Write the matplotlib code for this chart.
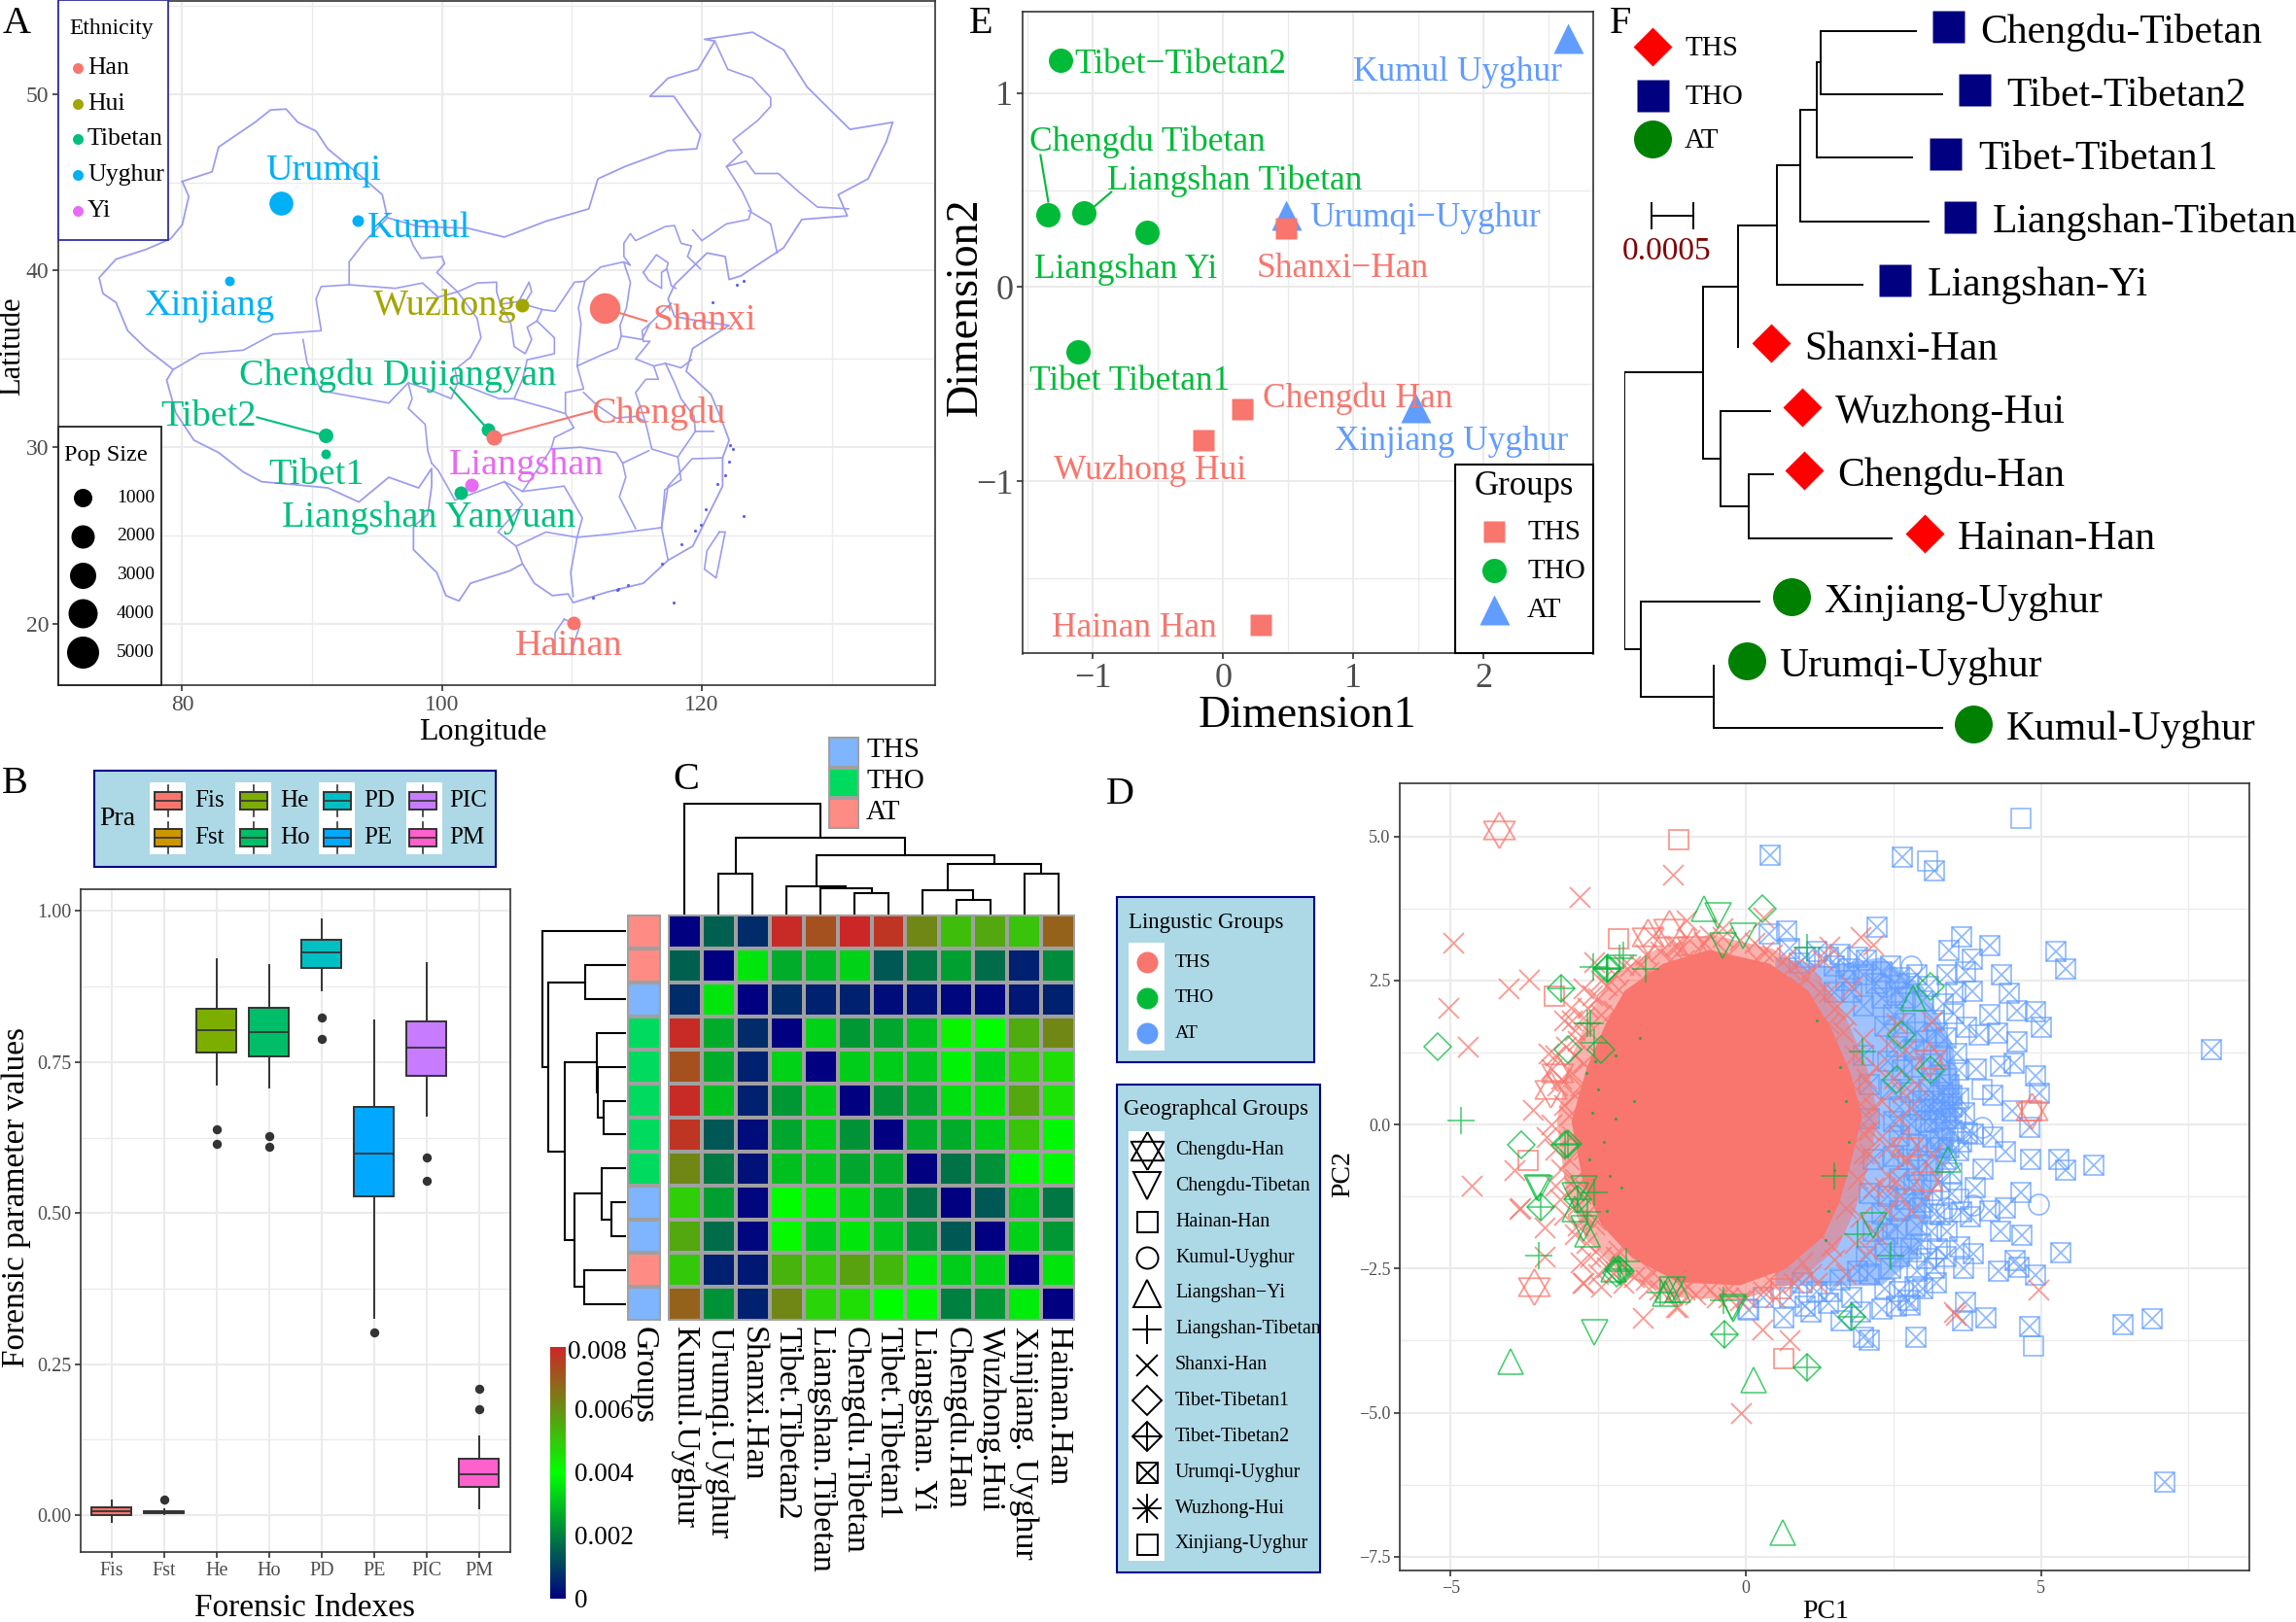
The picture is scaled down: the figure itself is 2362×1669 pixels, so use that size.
import numpy as np
import matplotlib
matplotlib.use("Agg")
import matplotlib.pyplot as plt
from matplotlib.colors import LinearSegmentedColormap, ListedColormap
from matplotlib.patches import Rectangle

plt.rcParams['font.family'] = ['Liberation Serif', 'DejaVu Sans']
plt.rcParams['axes.unicode_minus'] = True

# ---------- Panel A data ----------
site_names = ['Shanxi','Chengdu','Hainan','Wuzhong','Urumqi','Kumul','Xinjiang','Tibet2','Tibet1',
              'Chengdu Dujiangyan','Liangshan Yanyuan','Liangshan']
site_eth = ['Han','Han','Han','Hui','Uyghur','Uyghur','Uyghur','Tibetan','Tibetan','Tibetan','Tibetan','Yi']
site_lon = [112.48,104.02,110.14,106.17,87.6,93.5,83.64,91.07,91.07,103.55,101.45,102.29]
site_lat = [37.87,30.55,20.03,38.03,43.84,42.83,39.4,30.65,29.64,31.0,27.4,27.84]
site_pop = [4500,700,500,500,2200,300,100,600,100,500,500,500]
label_lon = [120.2,116.7,109.77,100.2,90.84,98.2,82.1,82.0,90.37,96.6,99.0,106.5]
label_lat = [37.2,31.93,18.76,38.03,45.64,42.4,37.98,31.75,28.45,34.03,26.03,28.97]
pop_legend = [1000,2000,3000,4000,5000]
eth_names = ['Han','Hui','Tibetan','Uyghur','Yi']
eth_cols = ['#F8766D','#A3A500','#00BF7D','#00B0F6','#E76BF3']

china_outer = [(80,45.05),(82.3,45.6),(82.8,47),(85.6,48.4),(86.8,49.1),(88,49.15),(88.9,48.4),(90.3,47.9),(91.2,46.9),
 (94,45.2),(95.4,44.3),(95.8,43),(98.2,42.5),(102,42.4),(104.8,41.9),(108,42.8),(111.3,43.5),(112,45.2),(114.1,45.9),
 (117.4,46.8),(119.6,46.9),(119.9,47.7),(117.85,49.87),(116,49.87),(117.4,50.9),(119.7,51.4),(121,53),(120.2,53.1),
 (123.9,53.5),(126.3,52.5),(128.1,50.4),(131.4,48),(134.7,48.4),(134.2,47.3),(132.8,45.2),(130.5,44.3),(131.2,43.1),
 (127.7,42.9),(126.3,41.3),(123,39.7),(122.1,39.5),(121.8,40.8),(120.4,41),(117.9,39.2),(117.4,38.4),(117.9,37.4),
 (120.2,37.1),(122.1,36.9),(119.3,35.6),(118.8,34.3),(120.7,33),(121.6,31.4),(122.1,30.4),(121.6,29.4),(121.6,27.8),
 (119.3,24.4),(117.4,23.6),(115.5,22.3),(112.7,21.8),(110.1,21.2),(109.7,21.7),(108.5,21.6),(107.1,22.3),(106.2,23.4),
 (105.2,23),(102.2,22.3),(101.3,21.3),(100.3,21.6),(99.6,22.9),(97.8,24.2),(97.8,25.5),(98.9,26.2),(99.2,27.8),(99.2,28.8),
 (98.2,27.7),(95.9,28.3),(93.6,26.9),(91.2,27.7),(88.4,27.9),(86.1,28.05),(84.7,28.6),(82.8,29.7),(80.9,30.4),(79.5,31.95),
 (78.8,33.8),(79.3,34.4),(77.2,35.6),(75.8,36.6),(74.9,38.2),(73.9,38.7),(73.6,39.6),(74.9,40.65),(77.2,41.2),(79.1,41.8),
 (80,42.6),(80.5,44.2),(80,45.05)]
provinces = [
 [(95.8,43),(94,41.6),(92.85,40.5),(92.85,39.2),(90.7,39.1),(90.3,38.4),(90.7,36.6),(87,36.4),(84.7,35.5),(81.4,35.3),(79.3,34.4)],
 [(89.3,36.1),(89.6,34.8),(90.7,33.2),(95.9,32.5),(97.4,33.65),(97.7,32.75),(97.4,32.2),(98.7,31.3),(98.9,29.8),(99.2,29.1)],
 [(97.4,42.1),(97.8,41.4),(98.4,40.7),(100,40.8),(100.2,40.4),(99.6,39.9),(101.2,38.8),(102.7,39.3),(104.2,39.35),(104.2,38.8),
  (104.5,38.1),(105.9,38.25),(106.7,39.35),(106.9,38.8),(106.3,38.1),(107.7,37.8),(108.7,37.7),(110.2,39.35),(111,39.4),(112.2,40.2),
  (114,40.5),(114.5,40.3),(114,40.8),(114,41.55),(114.5,42.1),(114.9,41.7),(117.2,42.5),(117.9,42.55),(118.4,41.55),(119.2,41.4),(118.9,40.8),(119.9,40.1)],
 [(119.3,42.3),(120,41.7),(121.9,42.65),(123.6,42.9),(123.8,43.4),(123.1,44.5),(121.9,45.9),(123.4,46.2),(124.1,45.5),(125.9,45.5),(127.4,44.5),(128.9,43.6),(131.3,43.5)],
 [(123.6,43.4),(125.3,42.65),(125.8,41)],
 [(121.9,45.9),(123.1,46.7),(122.4,47.4),(124.3,48.5),(125.3,49.3),(125.3,49.8),(123.9,50.9),(122,51.4),(121,53)],
 [(111,39.4),(110.5,37.9),(110.7,37),(110.4,34.6),(112.2,35.2),(113.5,35.6),(113.8,36.3),(113.7,36.9),(114.2,37.9),(114.5,39.35),(114,40.45)],
 [(113.8,36.3),(115.4,36.1),(116,37),(117.65,38.15)],
 [(116,37),(115.4,36.6),(115.5,36),(116,36),(114.9,35),(116.3,34.6),(117.2,34.75),(118.4,34.5),(119.2,34.95)],
 [(115.5,39.9),(116.5,40.9),(117.4,40.45),(117.3,40.1),(116.9,39.9),(116.9,39),(115.9,39.45),(115.5,39.9)],
 [(117.3,40.1),(117.65,39.15),(118,39)],
 [(116.3,34.6),(116.65,33.85),(115.7,33.85),(114.9,33.1),(115.65,31.45),(115.9,30.7),(116.15,29.9),(118.15,29.45),(119.5,30.9),(120.9,30.9)],
 [(117.2,34.75),(117.9,33.65),(118.4,32.75),(119.4,31.75),(119.5,30.9)],
 [(118.15,29.45),(118.4,28.15),(117.15,27.6),(116.9,25.45),(117.4,23.6)],
 [(110.4,34.6),(110.9,33.3),(109.5,33.1),(109.5,31.9),(108.2,32.2),(105.5,32.75),(104.4,32.75),(101.2,33.65),(100.7,32.75),(98.9,33.3),(97.4,33.65)],
 [(110.9,33.1),(111.9,32.4),(113.4,31.65),(114.9,31.75),(115.65,31.45)],
 [(109.5,31.9),(110.15,31.1),(108.65,30.55),(108.4,29.9),(110.65,30),(113.4,29.7),(113.9,29.1),(115.9,29.8)],
 [(113.9,29.1),(114.15,28.3),(113.65,27.2),(114.9,25.4)],
 [(107.7,37.8),(107.3,37.15),(108.65,36.2),(108.65,35.3),(106.55,34.95),(106.2,33.85),(105.55,32.75)],
 [(104.5,38.1),(105.3,37),(105.55,35.7),(106.4,35.3),(106.9,36.1),(106.55,36.8),(107.3,37.15)],
 [(92.85,39.2),(96.4,39.0),(98.5,39.3),(99.7,38.5),(101.2,38.8),(102.7,37.3),(103,36.2),(102.2,35.1),(101,34.4),(101.2,33.65)],
 [(99.2,29.1),(99.7,28.7),(100.7,27.4),(101,27),(104.8,28.05),(106.2,26.75),(104.3,25.2),(105.7,24.4),(106.2,23.4)],
 [(106.2,27.5),(109.4,27.8),(110.8,26),(110.4,24.9),(113.2,25.1),(116.9,25.45)],
 [(105.7,24.4),(108,25.2),(110.4,24.9),(109.9,22.9),(110.1,21.55)],
 [(116.9,25.45),(117.4,27.8),(119.25,29.35),(121.6,29.4)],
 [(108.4,29.9),(106.2,27.5),(104.8,28.05)],
 [(121.35,25.2),(121.8,25.2),(121.1,22.6),(120.2,23.1),(120.4,24.15),(121.35,25.2)],
 [(109.4,20.26),(110.6,19.9),(109.9,18.3),(108.7,18.3),(108.7,19.5),(109.4,20.26)],
]
islands = [(122.2,30.1),(122.4,29.9),(122.1,29.2),(121.8,28.4),(121.2,27.9),(120.3,26.5),(119.9,25.6),(119.5,25.3),(118.4,24.5),
 (116.9,23.4),(114.3,22.2),(113.5,21.9),(111.6,21.5),(122.7,39.2),(123.2,39.4),(120.8,38.2),(113.6,22.0),(123.2,26.1),(117.8,21.2)]

# ---------- Panel B data ----------
par_names = ['Fis','Fst','He','Ho','PD','PE','PIC','PM']
par_cols = ['#F8766D','#CD9600','#7CAE00','#00BE67','#00BFC4','#00A9FF','#C77CFF','#FF61CC']
par_q1 = [0.0,0.003,0.765,0.76,0.906,0.527,0.727,0.047]
par_med = [0.006,0.005,0.803,0.799,0.932,0.598,0.774,0.068]
par_q3 = [0.013,0.007,0.838,0.839,0.953,0.676,0.817,0.093]
par_lo = [-0.011,0.002,0.713,0.708,0.869,0.326,0.662,0.012]
par_hi = [0.025,0.01,0.92,0.91,0.986,0.819,0.914,0.130]
par_out = [[],[0.026],[0.638,0.615],[0.628,0.609],[0.824,0.789],[0.302],[0.592,0.554],[0.209,0.175]]

# ---------- Panel C data ----------
pop_cols = ['Kumul.Uyghur','Urumqi.Uyghur','Shanxi.Han','Tibet.Tibetan2','Liangshan.Tibetan','Chengdu.Tibetan',
            'Tibet.Tibetan1','Liangshan. Yi','Chengdu.Han','Wuzhong.Hui','Xinjiang. Uyghur','Hainan.Han']
fst = [
 [0,.0015,.0007,.0079,.0072,.0080,.0077,.0062,.0052,.0056,.0051,.0069],
 [.0015,0,.0036,.0027,.0029,.0033,.0014,.0019,.0025,.0017,.0005,.0022],
 [.0007,.0036,0,.0007,.0005,.0005,.0002,.0003,.0001,.0001,.0004,.0005],
 [.0079,.0027,.0007,0,.0033,.0024,.0026,.0030,.0042,.0040,.0055,.0062],
 [.0072,.0027,.0005,.0033,0,.0032,.0032,.0031,.0038,.0033,.0049,.0046],
 [.0079,.0030,.0005,.0024,.0032,0,.0023,.0026,.0035,.0036,.0056,.0045],
 [.0077,.0014,.0002,.0026,.0032,.0023,0,.0027,.0027,.0032,.0051,.0039],
 [.0062,.0019,.0003,.0030,.0031,.0026,.0027,0,.0018,.0023,.0039,.0039],
 [.0049,.0025,.0001,.0040,.0037,.0034,.0027,.0018,0,.0014,.0032,.0019],
 [.0056,.0017,.0001,.0041,.0032,.0036,.0031,.0023,.0014,0,.0033,.0024],
 [.0050,.0005,.0004,.0054,.0050,.0057,.0053,.0037,.0032,.0033,0,.0036],
 [.0069,.0023,.0005,.0062,.0048,.0046,.0040,.0039,.0020,.0024,.0037,0]]
row_groups = [2,2,0,1,1,1,1,1,0,0,2,0]
tree_top = (193,0,(134,(71,1,2),(104,(49,3,(45,4,(38,5,6))),(89,(42,7,(25,8,9)),(72,10,11)))))
tree_left = (215,0,(200,(105,1,2),(157,(75,3,(72,4,(58,5,6))),(132,(62,7,(38,8,9)),(107,10,11)))))
group_names = ['THS','THO','AT']
cbar_ticks = [0.008,0.006,0.004,0.002,0]
cbar_labels = ['0.008','0.006','0.004','0.002','0']

# ---------- Panel D data ----------
urumqi = [(3.66,3.25),(3.45,3.02),(4.14,3.10),(3.84,2.86),(5.26,3.0),(5.42,2.70),(3.73,2.65),(4.33,2.59),(3.41,2.59),(3.84,2.31),
 (4.47,2.28),(4.14,1.90),(4.91,1.96),(4.59,1.97),(5.01,1.69),(4.27,1.58),(4.59,1.44),(3.96,1.55),(3.52,1.92),(3.74,1.69),(3.25,1.58),
 (4.54,1.07),(4.32,1.02),(4.90,.85),(4.98,.54),(3.91,.96),(3.58,1.24),(4.18,.51),(4.51,.23),(4.81,-.05),(4.40,-.47),(4.18,-.22),
 (4.83,-.61),(5.30,-.61),(5.42,-.80),(5.90,-.70),(3.88,-1.09),(4.02,-.78),(3.85,-.16),(4.66,-1.18),(4.40,-1.45),(4.14,-1.50),(3.66,-1.51),
 (3.80,-1.60),(4.68,-1.92),(4.32,-1.85),(3.63,-2.13),(3.85,-2.24),(5.33,-2.22),(4.29,-2.55),(3.69,-2.50),(4.57,-2.36),(4.63,-2.47),
 (4.91,-2.61),(3.23,-2.74),(2.86,-2.81),(3.73,-3.09),(3.67,-3.40),(4.07,-3.36),(4.81,-3.51),(6.39,-3.47),(6.89,-3.37),(2.88,-3.69),
 (2.78,-3.14),(3.06,-2.33),(3.41,-1.85),(2.97,-2.07),(3.30,-1.57),(.41,4.67),(2.66,4.64),(3.2,4.4),(2.23,3.43),(7.89,1.3),(7.09,-6.2),
 (1.4,2.9),(1.75,2.7),(2.0,2.6),(1.5,2.3),(2.6,2.55),(2.9,2.6),(3.1,2.4),(2.3,2.2),(2.7,2.2),(3.2,1.8),(2.5,1.9),(2.9,1.6),(3.3,1.2),
 (2.85,1.0),(3.1,.6),(3.45,.7),(3.3,.2),(3.5,-.1),(3.1,-.3),(3.4,-.6),(2.9,-.8),(3.3,-1.0),(3.0,-1.35),(2.6,-1.5),(2.9,-1.75),(2.4,-1.9),
 (2.8,-2.15),(2.1,-2.6),(1.6,-2.7),(1.2,-2.9),(2.6,-2.9),(1.8,-3.0),(2.3,-3.2),(2.55,-3.15),(2.75,-3.05),(1.0,-3.15),(0.65,-3.35),
 (1.1,-3.25),(1.62,-3.4),(2.0,-3.7),(2.1,-3.75),(.05,-3.22),(.95,-2.75),(.9,2.8),(.7,3.35),(.4,3.3),(1.0,2.9),(1.5,2.75),(1.8,2.3),(3.7,.2),(3.2,-2.5),
 (2.05,2.85),(2.45,2.75),(2.75,2.45),(3.0,2.15),(2.2,2.45),(1.7,2.5),(2.55,2.3),(3.35,2.1),(3.55,2.3),(2.35,1.7),(2.7,1.75),(3.05,1.45),(3.4,1.5),
 (2.55,1.35),(2.85,1.3),(3.15,1.05),(2.4,1.1),(2.65,.95),(3.6,.95),(3.3,.85),(2.45,.6),(2.8,.55),(3.6,.45),(2.6,.3),(2.95,.25),(3.2,.4),(3.5,.3),
 (2.5,.05),(2.8,.0),(3.05,.05),(3.75,-.15),(2.6,-.2),(2.9,-.35),(3.25,-.4),(3.6,-.45),(2.5,-.55),(2.75,-.6),(3.1,-.7),(3.5,-.85),(2.6,-.95),(2.85,-1.05),
 (3.15,-1.15),(3.5,-1.2),(2.4,-1.25),(2.7,-1.3),(3.2,-1.55),(2.3,-1.55),(2.55,-1.8),(2.95,-1.45),(3.15,-1.85),(2.15,-1.85),(2.35,-2.15),(2.6,-2.3),
 (3.25,-2.15),(2.05,-2.3),(2.45,-2.5),(2.9,-2.55),(1.9,-2.55),(1.45,-2.9),(2.35,-2.85),(3.4,-2.3),(3.0,-2.85),(1.95,-3.25),(1.4,-3.1),(.75,-3.0),(.3,-3.0),
 (2.3,2.65),(1.9,2.9),(1.2,3.0),(.75,3.05),(1.6,2.95),(2.0,2.05),(2.0,1.2),(2.1,.7),(2.1,0.1),(2.15,-.6),(2.1,-1.2),(3.35,.55),(3.55,.1),(3.65,-.3),
 (3.4,.1),(3.2,.05),(3.3,-.25),(3.45,-.4),(3.15,.25),(3.35,.35),(3.5,.5),(3.0,.4)]
xinjiang = [(4.66,5.32),(3.08,4.57),(4.88,-3.85),(.03,-3.2),(3.4,.8),(4.0,.6),(3.6,-1.3)]
hainan = [(-1.13,4.94),(-2.16,3.23),(-3.25,2.22),(-3.69,-.63),(.65,-4.07),(4.84,.24),(.6,-2.85)]
kumul = [(4.96,-1.39),(2.8,2.75),(2.35,2.4),(4.0,-.05),(3.4,-1.45),(3.85,-1.4)]
chengdu_han = [(-4.18,5.11),(-3.59,-2.82),(-1.66,3.26),(-.9,3.1),(4.84,.24),(3.11,1.13),(3.06,-.98),(2.72,-.38),(-3.2,.9),(-3.3,.6),(-1.3,3.4)]
shanxi = [(-1.24,4.34),(-2.81,3.94),(-4.95,3.16),(-3.67,2.51),(-4.02,2.37),(-5.03,2.02),(-4.7,1.35),(-4.64,-1.06),(-3.92,-.8),(-3.82,-1.45),
 (-.08,-5),(4.95,-2.86),(3.55,-3.31),(.74,-3.74),(.28,-3.55),(-1.75,-3.36),(-1.18,-3.17),(-2.76,-2.74),(-3.6,.26),(-3.84,-1.46),
 (-3.40,-1.79),(-3.4,-2.3),(-2.74,-2.75),(-2.46,-2.81),(-1.15,-3.17),(-2.08,-2.75),(-1.69,-2.69),(-3.29,.96),(-3.23,1.19),(-3.34,1.24),
 (-3.12,.79),(-3.2,.68),(-3.07,.34),(-3.07,1.8),(-2.74,2.37),(-2.96,2.03),(-2.9,1.63),(-2.57,2.82),(-2.08,2.76),(-1.58,3.27),(-1.15,3.1),
 (-1.8,2.76),(-1.26,2.87),(-.6,3.27),(-3.37,-.22),(-3.23,-.44),(-3.29,0),(-3.12,-.78),(-3.23,-1.06),(-2.9,-.95),(-3.07,-1.57),(-2.9,-1.91),
 (-2.63,-2.3),(-2.35,-2.47),(-1.47,-2.86),(-1.03,-2.86),(-.6,-2.86),(-2.35,2.42),(-2.24,1.97),(-2.68,2.03),(-2.74,1.07),(-2.79,.68),
 (-2.68,0),(-2.74,-.44),(-2.63,-1.18),(-2.57,-1.74),(.3,3.0),(.7,2.9),(1.1,2.7),(1.4,2.3),(1.7,1.9),(2.0,1.5),(2.2,1.0),(2.3,.4),(2.3,-.2),
 (2.4,-.9),(2.4,-1.5),(2.1,-2.2),(1.7,-2.6),(1.2,-2.75),(.5,-3.0),(0,-3.0),(-.3,-3.0),(3.14,1.78),(3.17,-.53),(2.78,.29),(3.52,-3.26),
 (1.94,3.25),(2.16,3.12),(1.41,3.09),(.3,3.6),(-.4,3.4),(-1.0,3.55),(1.3,2.85),(2.0,-.5),(2.6,.1),(2.5,.8),(2.55,-1.0),(2.2,-1.9),(-2.2,-2.3),(-2.5,2.2),(-2.9,1.2),
 (-2.95,.9),(-2.9,.5),(-3.0,.15),(-2.95,-.2),(-3.0,-.6),(-2.9,-1.1),(-2.85,-1.4),(-2.75,-1.6),(-3.05,1.35),(-2.85,1.45),(-2.95,1.8),(-2.65,1.6),(-2.6,2.25),
 (-2.75,1.85),(-2.45,2.5),(-2.2,2.6),(-1.95,2.75),(-1.7,2.95),(-1.45,3.0),(-1.2,3.1),(-.95,3.2),(-.7,3.15),(-.4,3.25),(-.1,3.2),(.15,3.15),(.45,2.95),(.75,2.7),
 (1.0,2.55),(1.25,2.3),(1.5,2.0),(1.65,1.6),(1.85,1.2),(2.05,.8),(2.15,.3),(2.1,-.1),(2.1,-.5),(2.15,-1.1),(1.95,-1.6),(1.85,-2.05),(1.5,-2.35),(1.1,-2.6),(.8,-2.75),
 (.3,-2.9),(-.1,-3.05),(-.5,-3.0),(-.85,-2.95),(-1.25,-2.95),(-1.65,-2.85),(-1.9,-2.65),(-2.2,-2.55),(-2.45,-2.3),(-2.7,-2.05),(-2.85,-1.75),(-2.5,-2.6),(-2.8,-2.4),
 (-3.15,-1.3),(-2.65,-.7),(-2.7,.4),(-2.5,1.2),(-2.45,1.9),(-2.15,2.35),(-1.65,2.65),(-1.05,2.85),(-.3,2.95),(.2,2.85),(.9,2.4),(1.4,1.75),(1.8,.7),(1.95,.35),(2.0,-.15),
 (1.9,-.95),(1.7,-1.45),(1.45,-2.1),(.95,-2.4),(.4,-2.7),(-.3,-2.85),(-1.0,-2.8),(-1.6,-2.55),(-2.15,-2.2),(-2.55,-1.65),(-2.8,-1.2),(-2.85,-.35),(2.9,.7),(2.7,1.3),
 (2.55,1.75),(2.4,-.4),(2.7,-.6),(2.6,-1.25),(2.8,-1.5),(2.65,.55),(2.4,1.4),(2.35,-1.1),(1.8,2.4)]
liangshan_yi = [(.62,-7.09),(-3.98,-4.11),(.14,-4.44),(-.71,3.74),(2.84,2.19),(3.43,-.61),(-1.37,-2.93),(-2.68,-1.91),(-1.31,-2.86),(-1.15,-2.86),(-2.24,-2.52),(-2.9,-1.46)]
chengdu_tib = [(-2.56,-3.6),(-.47,3.62),(2.16,-1.75),(-3.54,-1.09),(-.23,-3.17),(-3.51,-1.12),(-2.74,-1.12),(-2.9,-1.23),(-2.74,-1.8),(-.21,-3.2),(-1.25,-2.86),(-.05,3.27),(-.4,3.1)]
tibet1 = [(-5.22,1.35),(.28,3.74),(-3.8,-.35),(3.13,2.39),(2.64,1.56),(2.56,.78),(3.13,.95),(-3.01,1.3),(-2.46,1.3),(-2.19,-2.58)]
tibet2 = [(-3.12,2.37),(-.36,-3.64),(1.04,-4.21),(1.8,-3.34),(-2.34,2.72),(-3.47,-1.43),(-3.06,-.35),(-2.15,-2.51),(-2.35,2.7),(-3.01,-.34),(-2.85,-1.29),(-2.13,-2.55)]
liangshan_tib = [(-4.82,.07),(-3.51,-2.28),(1.97,1.26),(2.45,-2.28),(-2.14,2.89),(1.04,3.07),(-2.59,2.74),(-2.69,1.75),(-2.63,1.75),(-2.35,2.70),(-2.08,2.93),(-1.69,2.7),(-2.57,1.41),(-.38,-3.06),(-1.45,-2.92),(-2.02,-2.38),(-2.68,-1.51),(-2.57,-1.18),(1.5,-.9),(1.9,-1.9)]
core_ths = [(-.62,3.03),(.41,2.79),(1.06,2.32),(1.45,1.66),(1.77,.9),(1.97,.14),(1.77,-.71),(1.58,-1.37),(1.32,-1.94),(.67,-2.51),(-.1,-2.79),(-1.14,-2.74),(-1.92,-2.32),(-2.44,-1.75),(-2.76,-.99),(-2.95,.05),(-2.69,.99),(-2.37,1.75),(-2.05,2.32),(-1.4,2.79)]
fringe_ths = [(-.6,3.3),(.45,3.05),(1.25,2.55),(1.7,1.85),(2.05,1.0),(2.25,.15),(2.05,-.8),(1.85,-1.5),(1.55,-2.15),(.85,-2.75),(-.1,-3.05),(-1.2,-3.0),(-2.1,-2.6),(-2.7,-2.0),(-3.05,-1.1),(-3.2,.05),(-3.0,1.05),(-2.65,1.9),(-2.3,2.55),(-1.5,3.05)]
core_at = [(.5,2.9),(1.4,2.75),(2.3,2.9),(3.0,2.4),(3.5,1.4),(3.65,.5),(3.5,-.5),(3.1,-1.3),(2.9,-2.3),(2.3,-2.8),(1.4,-2.8),(.5,-2.8)]
specks = [(-2.5,.6),(-2.2,1.2),(-1.9,.4),(-2.4,-.3),(-2.1,-1.1),(-2.3,-.9),(1.6,1.0),(1.7,.4),(1.5,-.8),(1.4,-1.5),(1.2,1.8),(-2.6,.2),
 (-2.7,.9),(-2.65,-.6),(1.75,-.3),(1.35,-2.0),(-2.2,.1),(-2.55,1.1),(-1.8,1.5),(-2.35,-1.5)]
geo_names = ['Chengdu-Han','Chengdu-Tibetan','Hainan-Han','Kumul-Uyghur','Liangshan\u2212Yi','Liangshan-Tibetan','Shanxi-Han',
             'Tibet-Tibetan1','Tibet-Tibetan2','Urumqi-Uyghur','Wuzhong-Hui','Xinjiang-Uyghur']

# ---------- Panel E data ----------
mds_names = ['Tibet\u2212Tibetan2','Chengdu Tibetan','Liangshan Tibetan','Liangshan Yi','Tibet Tibetan1',
             'Kumul Uyghur','Urumqi\u2212Uyghur','Xinjiang Uyghur','Shanxi\u2212Han','Chengdu Han','Wuzhong Hui','Hainan Han']
mds_group = ['THO']*5+['AT']*3+['THS']*4
mds_x = [-1.25,-1.344,-1.069,-.583,-1.118,2.647,.486,1.474,.479,.149,-.155,.292]
mds_y = [1.17,.374,.381,.281,-.334,1.285,.371,-.618,.301,-.628,-.79,-1.741]
mds_tx = [-.33,-.58,.09,-.75,-.72,1.80,1.55,1.75,.92,1.03,-.56,-.68]
mds_ty = [1.145,.745,.545,.09,-.485,1.105,.355,-.795,.095,-.575,-.945,-1.755]

# ---------- Panel F data ----------
tree_nj = (0,
 (.000957,(.00138,(.00185,(.00213,(.00233,(.00238,(.00353,0),(.00385,1)),(.00349,2)),(.00369,3)),(.00289,4)),(.00138,5)),
  (.00116,(.00177,6),(.00151,(.00180,7),(.00324,8)))),
 (.000196,(.00163,9),(.00108,(.00108,10),(.00385,11))))
nj_names = ['Chengdu-Tibetan','Tibet-Tibetan2','Tibet-Tibetan1','Liangshan-Tibetan','Liangshan-Yi','Shanxi-Han',
            'Wuzhong-Hui','Chengdu-Han','Hainan-Han','Xinjiang-Uyghur','Urumqi-Uyghur','Kumul-Uyghur']
nj_group = ['THO']*5+['THS']*4+['AT']*3
nj_mark = [.00392,.00424,.00389,.00407,.00328,.00178,.00216,.00218,.00364,.00202,.00148,.00423]

# ---------- helpers ----------
W, H = 2362, 1669
fig = plt.figure(figsize=(W/100, H/100), dpi=100, facecolor='white')
PT = 0.72

def axpx(x0, y0, x1, y1, **kw):
    ax = fig.add_axes([x0/W, 1-y1/H, (x1-x0)/W, (y1-y0)/H], **kw)
    ax._box = (x0, y0, x1, y1)
    return ax

def theme(ax, xmaj, xmin, ymaj, ymin, tick=13, col='#4D4D4D'):
    ax.set_axisbelow(True)
    ax.set_xticks(xmaj); ax.set_yticks(ymaj)
    ax.set_xticks(xmin, minor=True); ax.set_yticks(ymin, minor=True)
    ax.grid(True, which='major', color='#EBEBEB', lw=1.5)
    ax.grid(True, which='minor', color='#EBEBEB', lw=1.0)
    ax.tick_params(which='minor', length=0)
    ax.tick_params(which='major', length=4, width=1.2, color='#333333', labelsize=tick, labelcolor=col, pad=3)
    for s in ax.spines.values():
        s.set_color('#333333'); s.set_linewidth(1.2)

def xlabel_at(ax, text, px, py, size):
    x0, y0, x1, y1 = ax._box
    ax.set_xlabel(text, fontsize=size, va='center', ha='center')
    ax.xaxis.set_label_coords((px-x0)/(x1-x0), (y1-py)/(y1-y0))

def ylabel_at(ax, text, px, py, size):
    x0, y0, x1, y1 = ax._box
    ax.set_ylabel(text, fontsize=size, va='center', ha='center', rotation=90)
    ax.yaxis.set_label_coords((px-x0)/(x1-x0), (y1-py)/(y1-y0))

def mark(ax, x, y, m, c, px, lw=1.1, alpha=1.0, z=3):
    ax.plot(x, y, ls='none', marker=m, mfc='none', mec=c, ms=px*PT, mew=lw, alpha=alpha, zorder=z)

TRI_UP = [(0,1),(-.866,-.5),(.866,-.5),(0,1)]
TRI_DN = [(0,-1),(-.866,.5),(.866,.5),(0,-1)]

def shape(ax, x, y, kind, c, unit, lw=1.1, alpha=1.0, z=3):
    u = unit
    if kind == 'star':
        mark(ax, x, y, TRI_UP, c, u*1.85, lw, alpha, z); mark(ax, x, y, TRI_DN, c, u*1.85, lw, alpha, z)
    elif kind == 'down':
        mark(ax, x, y, 'v', c, u*1.35, lw, alpha, z)
    elif kind == 'up':
        mark(ax, x, y, '^', c, u*1.35, lw, alpha, z)
    elif kind == 'square':
        mark(ax, x, y, 's', c, u, lw, alpha, z)
    elif kind == 'circle':
        mark(ax, x, y, 'o', c, u*1.05, lw, alpha, z)
    elif kind == 'plus':
        mark(ax, x, y, '+', c, u*1.4, lw, alpha, z)
    elif kind == 'x':
        mark(ax, x, y, 'x', c, u*1.05, lw, alpha, z)
    elif kind == 'diamond':
        mark(ax, x, y, 'D', c, u, lw, alpha, z)
    elif kind == 'dplus':
        mark(ax, x, y, 'D', c, u, lw, alpha, z); mark(ax, x, y, '+', c, u*1.4, lw, alpha, z)
    elif kind == 'sx':
        mark(ax, x, y, 's', c, u, lw, alpha, z); mark(ax, x, y, 'x', c, u, lw, alpha, z)
    elif kind == 'ast':
        mark(ax, x, y, '+', c, u*1.4, lw, alpha, z); mark(ax, x, y, 'x', c, u, lw, alpha, z)

# overlay for legends and panel letters
ov = axpx(0, 0, W, H, zorder=20)
ov.set_xlim(0, W); ov.set_ylim(H, 0); ov.axis('off'); ov.patch.set_alpha(0)

def box(x0, y0, x1, y1, fc, ec, lw=1.5, z=1):
    ov.add_patch(Rectangle((x0, y0), x1-x0, y1-y0, fc=fc, ec=ec, lw=lw, zorder=z))

for ch, x, y in [('A',17,25),('B',15,806),('C',706,802),('D',1152,817),('E',1009,24),('F',1667,24)]:
    ov.text(x, y, ch, fontsize=29, ha='center', va='center', color='black', zorder=9)

# ---------- Panel A ----------
axA = axpx(60, 1, 962, 705)
axA.set_xlim(70.46, 137.96); axA.set_ylim(16.53, 55.27)
theme(axA, [80,100,120], [90,110,130], [20,30,40,50], [25,35,45,55], tick=17)
mapc = '#9C9CF0'
pts = np.array(china_outer)
axA.plot(pts[:,0], pts[:,1], color=mapc, lw=1.3, zorder=2)
for p in provinces:
    p = np.array(p)
    axA.plot(p[:,0], p[:,1], color=mapc, lw=1.2, zorder=2)
isl = np.array(islands)
axA.plot(isl[:,0], isl[:,1], ls='none', marker='.', color='#6060E8', ms=2.5, zorder=2)
eth_col = dict(zip(eth_names, eth_cols))
def pop_d(v):
    return np.interp(v, [0,1000,2000,3000,4000,5000], [9,19,24,27,30,33])
for n, e, lo, la, v, tx, ty in zip(site_names, site_eth, site_lon, site_lat, site_pop, label_lon, label_lat):
    c = eth_col[e]
    axA.plot(lo, la, 'o', color=c, mec='none', ms=pop_d(v)*PT, zorder=5 if n != 'Chengdu' else 6)
    axA.text(tx, ty, n, color=c, fontsize=27.5, ha='center', va='center', zorder=7)
segs = {'Tibet2':(85.75,31.7),'Chengdu Dujiangyan':(100.65,33.38),'Chengdu':(111.54,32.03),'Shanxi':(115.75,37.14)}
for n, (sx, sy) in segs.items():
    i = site_names.index(n)
    axA.plot([sx, site_lon[i]], [sy, site_lat[i]], color=eth_col[site_eth[i]], lw=1.5, zorder=4)
xlabel_at(axA, 'Longitude', 497, 753, 23)
ylabel_at(axA, 'Latitude', 13, 356, 22)

box(60, 0, 173, 247, 'white', '#3030A0', 1.3)
ov.text(71, 30, 'Ethnicity', fontsize=17, va='center', zorder=3)
for i, (n, c) in enumerate(zip(eth_names, eth_cols)):
    y = 70 + 36.7*i
    ov.plot(80, y, 'o', color=c, mec='none', ms=11*PT, zorder=3)
    ov.text(90, y, n, fontsize=18.5, va='center', zorder=3)
box(60, 439, 166, 705, 'white', '#222222', 1.3)
ov.text(66, 468, 'Pop Size', fontsize=17.5, va='center', zorder=3)
for i, v in enumerate(pop_legend):
    y = 512 + 39.8*i
    ov.plot(85, y, 'o', color='black', mec='none', ms=pop_d(v)*PT, zorder=3)
    ov.text(159, y, str(v), fontsize=14, va='center', ha='right', zorder=3)

# ---------- Panel B ----------
axB = axpx(83, 915, 524.5, 1597)
stats = [dict(q1=a, med=b, q3=c, whislo=d, whishi=e, fliers=f, label=n)
         for a, b, c, d, e, f, n in zip(par_q1, par_med, par_q3, par_lo, par_hi, par_out, par_names)]
bp = axB.bxp(stats, positions=range(1, 9), widths=0.76, patch_artist=True, showcaps=False,
             medianprops=dict(color='#333333', lw=1.3), whiskerprops=dict(color='#333333', lw=1.4),
             boxprops=dict(edgecolor='#333333', lw=1.4),
             flierprops=dict(marker='o', mfc='#333333', mec='#333333', ms=8*PT))
for b, c in zip(bp['boxes'], par_cols):
    b.set_facecolor(c)
axB.set_xlim(0.41, 8.59); axB.set_ylim(-0.061, 1.036)
theme(axB, range(1, 9), [], [0,.25,.5,.75,1], [.125,.375,.625,.875], tick=14.5)
axB.set_xticklabels(par_names)
axB.set_yticklabels(['0.00','0.25','0.50','0.75','1.00'])
xlabel_at(axB, 'Forensic Indexes', 313, 1655, 24)
ylabel_at(axB, 'Forensic parameter values', 17, 1232, 24)

box(97, 793, 510, 892, '#ADD8E6', '#00008B', 1.5)
ov.text(102, 842, 'Pra', fontsize=20, va='center', zorder=3)
key_x = [173, 261, 347, 435]
for k in range(4):
    ov.add_patch(Rectangle((154+k*88-(2 if k==2 else 0), 805), 37, 74, fc='white', ec='none', zorder=2))
    for j in range(2):
        idx = k*2+j
        y = 824 + j*38
        x = key_x[k]
        ov.plot([x, x], [y-16, y+16], color='#333333', lw=1.2, zorder=3)
        ov.add_patch(Rectangle((x-14, y-9), 28, 18, fc=par_cols[idx], ec='#333333', lw=1.4, zorder=4))
        ov.plot([x-14, x+14], [y, y], color='#333333', lw=1.2, zorder=5)
        ov.text(x+27, y, par_names[idx], fontsize=18, va='center', zorder=3)

# ---------- Panel C ----------
cmapC = LinearSegmentedColormap.from_list('fst', ['#000080', '#00FF00', '#CD2626'])
grid_col = '#A0A0A0'
axC = axpx(687, 941, 1106, 1359)
axC.pcolormesh(np.array(fst), cmap=cmapC, vmin=0, vmax=.008, edgecolors=grid_col, linewidth=1.5)
axC.set_xlim(0, 12); axC.set_ylim(12, 0); axC.axis('off')

group_cols = ListedColormap(['#7FB4FF', '#00DA5F', '#FF8C84'])
axG = axpx(645, 941, 680, 1359)
axG.pcolormesh(np.array(row_groups).reshape(-1, 1), cmap=group_cols, vmin=-.5, vmax=2.5, edgecolors=grid_col, linewidth=1.5)
axG.set_xlim(0, 1); axG.set_ylim(12, 0); axG.axis('off')

axL = axpx(852, 758, 884, 853)
axL.pcolormesh(np.array([0, 1, 2]).reshape(-1, 1), cmap=group_cols, vmin=-.5, vmax=2.5, edgecolors=grid_col, linewidth=1.5)
axL.set_xlim(0, 1); axL.set_ylim(3, 0); axL.axis('off')
for i, n in enumerate(group_names):
    ov.text(891, 772+32*i, n, fontsize=21, va='center', zorder=3)

def dendro(ax, node, horiz):
    if isinstance(node, int):
        return node + .5, 0
    h, a, b = node
    pa, ha = dendro(ax, a, horiz)
    pb, hb = dendro(ax, b, horiz)
    xs, ys = [pa, pa, pb, pb], [ha, h, h, hb]
    if horiz:
        ax.plot(xs, ys, color='black', lw=1.5, solid_joinstyle='miter')
    else:
        ax.plot(ys, xs, color='black', lw=1.5, solid_joinstyle='miter')
    return (pa + pb)/2, h

axT = axpx(687, 826, 1106, 941)
dendro(axT, tree_top, True)
axT.set_xlim(0, 12); axT.set_ylim(0, 195); axT.axis('off'); axT.patch.set_alpha(0)
axD2 = axpx(557, 941, 644, 1359)
dendro(axD2, tree_left, False)
axD2.set_xlim(217, 0); axD2.set_ylim(12, 0); axD2.axis('off'); axD2.patch.set_alpha(0)

for i, n in enumerate(pop_cols):
    ov.text(687+(i+.5)*419/12, 1365, n, rotation=270, fontsize=24.5, ha='center', va='top', zorder=3)
ov.text(662, 1365, 'Groups', rotation=270, fontsize=24.5, ha='center', va='top', zorder=3)

axCB = axpx(566, 1386, 582, 1645)
axCB.pcolormesh([0, 1], np.linspace(0, .008, 257), np.linspace(0, .008, 256).reshape(-1, 1), cmap=cmapC, vmin=0, vmax=.008)
axCB.set_ylim(0, .008); axCB.axis('off')
for t, lab in zip(cbar_ticks, cbar_labels):
    y = 1645 - t/.008*259
    if t == .008:
        y += 3
        x = 584
    else:
        x = 591
    ov.text(x, y+2, lab, fontsize=19.5, va='center', zorder=3)

# ---------- Panel D ----------
axP = axpx(1440, 806, 2314, 1616)
axP.set_xlim(-5.86, 8.53); axP.set_ylim(-7.74, 5.92)
theme(axP, [-5,0,5], [-2.5,2.5,7.5], [-7.5,-5,-2.5,0,2.5,5], [-6.25,-3.75,-1.25,1.25,3.75], tick=13)
axP.set_yticks([-7.5,-5,-2.5,0,2.5,5]); axP.set_yticklabels(['\u22127.5','\u22125.0','\u22122.5','0.0','2.5','5.0'])
axP.set_xticklabels(['\u22125','0','5'])
col_ths, col_tho, col_at = '#F8766D', '#00BA38', '#619CFF'
AL = .72
def xy(L):
    a = np.array(L)
    return a[:,0], a[:,1]
ca = np.array(core_at)
axP.fill(ca[:,0], ca[:,1], color=col_at, alpha=.6, lw=0, zorder=2)
unit = 20
for L, k in [(urumqi,'sx'),(xinjiang,'square'),(kumul,'circle')]:
    shape(axP, *xy(L), k, col_at, unit, 1.2, AL, 3)
cf = np.array(fringe_ths)
axP.fill(cf[:,0], cf[:,1], color=col_ths, alpha=.55, lw=0, zorder=3.5)
ct = np.array(core_ths)
axP.fill(ct[:,0], ct[:,1], color=col_ths, lw=0, zorder=4)
for L, k in [(shanxi,'x'),(hainan,'square'),(chengdu_han,'star')]:
    shape(axP, *xy(L), k, col_ths, unit, 1.35, AL, 5)
for L, k in [(liangshan_yi,'up'),(chengdu_tib,'down'),(tibet1,'diamond'),(tibet2,'dplus'),(liangshan_tib,'plus')]:
    shape(axP, *xy(L), k, col_tho, unit, 1.1, .75, 6)
axP.plot(*xy(specks), ls='none', marker='.', color='#3C9E55', ms=2.5, zorder=6)
xlabel_at(axP, 'PC1', 1878, 1658, 20)
ylabel_at(axP, 'PC2', 1382, 1208, 20)

box(1149, 923, 1352, 1093, '#ADD8E6', '#00008B', 1.5)
ov.text(1161, 949, 'Lingustic Groups', fontsize=16.5, va='center', zorder=3)
ov.add_patch(Rectangle((1161, 970), 37, 111, fc='white', ec='none', zorder=2))
for i, (n, c) in enumerate(zip(group_names, [col_ths, col_tho, col_at])):
    y = 990 + 36.7*i
    ov.plot(1179.5, y, 'o', color=c, mec='none', ms=22*PT, zorder=3)
    ov.text(1209, y, n, fontsize=14, va='center', zorder=3)
box(1149, 1116, 1358, 1618, '#ADD8E6', '#00008B', 1.5)
ov.text(1156, 1141.5, 'Geographcal Groups', fontsize=16.5, va='center', zorder=3)
ov.add_patch(Rectangle((1161, 1164), 37, 442, fc='white', ec='none', zorder=2))
kinds = ['star','down','square','circle','up','plus','x','diamond','dplus','sx','ast','square']
for i, (n, k) in enumerate(zip(geo_names, kinds)):
    y = 1183.5 + 36.85*i
    shape(ov, [1179.5], [y], k, 'black', 21, 1.4, 1, 3)
    ov.text(1209, y, n, fontsize=14.3, va='center', zorder=3)

# ---------- Panel E ----------
axE = axpx(1052, 12, 1639, 672.5)
axE.set_xlim(-1.541, 2.842); axE.set_ylim(-1.887, 1.419)
theme(axE, [-1,0,1,2], [-1.5,-.5,.5,1.5,2.5], [-1,0,1], [-1.5,-.5,.5], tick=26, col='#4D4D4D')
axE.set_xticklabels(['\u22121','0','1','2']); axE.set_yticklabels(['\u22121','0','1'])
e_col = {'THS':col_ths,'THO':col_tho,'AT':col_at}
e_m = {'THS':'s','THO':'o','AT':'^'}
e_s = {'THS':22,'THO':25,'AT':31}
order = ['AT','THO','THS']
for g in order:
    for x, y, gg in zip(mds_x, mds_y, mds_group):
        if gg == g:
            axE.plot(x, y, e_m[g], color=e_col[g], mec='none', ms=e_s[g]*PT, zorder=4)
for n, g, tx, ty in zip(mds_names, mds_group, mds_tx, mds_ty):
    axE.text(tx, ty, n, color=e_col[g], fontsize=25.5, ha='center', va='center', zorder=5)
# label leaders
axE.plot([-1.344-.06, -1.344], [.68, .44], color=col_tho, lw=1.5, zorder=3)
axE.plot([-1.0, -.86], [.41, .49], color=col_tho, lw=1.5, zorder=3)
xlabel_at(axE, 'Dimension1', 1345, 737, 33)
ylabel_at(axE, 'Dimension2', 993, 316, 33)

box(1497, 478, 1639, 672, 'white', 'black', 1.5)
ov.text(1568, 500, 'Groups', fontsize=25, ha='center', va='center', zorder=3)
for i, g in enumerate(['THS','THO','AT']):
    y = 547 + 40*i
    ov.plot(1537, y, e_m[g], color=e_col[g], mec='none', ms=e_s[g]*PT, zorder=3)
    ov.text(1571, y+1, g, fontsize=21, va='center', zorder=3)

# ---------- Panel F ----------
axF = axpx(1671.3, 0, W, 780)
axF.set_xlim(0, (W-1671.3)/84800); axF.set_ylim(11.47, -.488); axF.axis('off'); axF.patch.set_alpha(0)
def nj(node, parent):
    if len(node) == 2:
        d, r = node
        axF.plot([parent, d], [r, r], color='black', lw=1.4)
        return r
    d, a, b = node
    ya = nj(a, d); yb = nj(b, d)
    axF.plot([d, d], [ya, yb], color='black', lw=1.4, solid_capstyle='butt')
    y = (ya+yb)/2
    if parent is not None:
        axF.plot([parent, d], [y, y], color='black', lw=1.4)
    return y
nj(tree_nj, None)
f_m = {'THS':('D','#FF0000',28),'THO':('s','#000080',33),'AT':('o','#008000',39)}
for r, (n, g, mx) in enumerate(zip(nj_names, nj_group, nj_mark)):
    m, c, s = f_m[g]
    axF.plot(mx, r-.07, m, color=c, mec='none', ms=s*PT)
    axF.text(mx+.000397, r+.02, n, fontsize=30, va='center', ha='left')
sb_y = 222
ov.plot([1699, 1742], [sb_y, sb_y], color='black', lw=1.4, zorder=3)
ov.plot([1699, 1699], [209, 235], color='black', lw=1.4, zorder=3)
ov.plot([1742, 1742], [209, 235], color='black', lw=1.4, zorder=3)
ov.text(1715, 259, '0.0005', color='#800000', fontsize=24, ha='center', va='center', zorder=3)
for (g, y) in [('THS',48),('THO',98),('AT',143)]:
    m, c, s = f_m[g]
    ov.plot(1700, y, m, color=c, mec='none', ms=s*PT, zorder=3)
    ov.text(1733, y+2, g, fontsize=21, va='center', zorder=3)

fig.savefig('out.png', dpi=100, facecolor='white')
